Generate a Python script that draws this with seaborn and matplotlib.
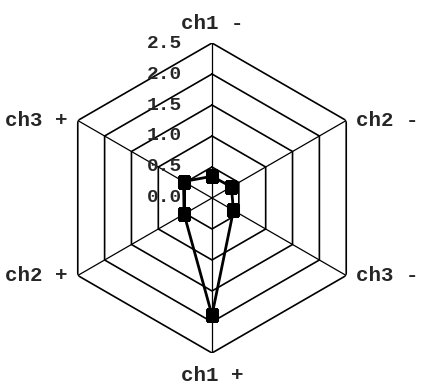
import numpy as np
import matplotlib
matplotlib.use("Agg")
import matplotlib.pyplot as plt
import matplotlib.transforms as mtransforms
import seaborn as sns

# data
channels = ["ch1 -", "ch2 -", "ch3 -", "ch1 +", "ch2 +", "ch3 +"]
values = [0.35, 0.36, 0.40, 1.89, 0.52, 0.53]
rings = [0.5, 1.0, 1.5, 2.0, 2.5]
tick_labels = ["0.0", "0.5", "1.0", "1.5", "2.0", "2.5"]
tick_values = [0.0, 0.5, 1.0, 1.5, 2.0, 2.5]

sns.set_style("white")
plt.rcParams['font.family'] = ['Liberation Mono', 'DejaVu Sans Mono']

fig = plt.figure(figsize=(4.21, 3.88), dpi=100)
ax = fig.add_axes([0.1354, 0.0902, 0.7363, 0.799], projection='polar')
ax.set_theta_zero_location('N')
ax.set_theta_direction(-1)

n = len(channels)
angles = np.linspace(0, 2 * np.pi, n, endpoint=False)
closed = np.append(angles, angles[0])

# hexagon grid
for r in rings:
    ax.plot(closed, [r] * (n + 1), color='black', lw=1.2, zorder=1)
for a in angles:
    ax.plot([a, a], [0, rings[-1]], color='black', lw=0.9, zorder=1)

# data line
sns.lineplot(x=closed, y=values + [values[0]], sort=False, estimator=None,
             color='black', lw=2.0, marker='s', markersize=8.5,
             markeredgecolor='black', ax=ax, zorder=3)

ax.set_ylim(0, 2.5)
ax.set_xticks([])
ax.set_yticks([])
ax.grid(False)
ax.spines['polar'].set_visible(False)
ax.set_xlabel('')
ax.set_ylabel('')

# radial tick labels along the top spoke
off = mtransforms.offset_copy(ax.transData, fig=fig, x=-30, y=0, units='dots')
for v, lab in zip(tick_values, tick_labels):
    ax.text(0, v, lab, transform=off, ha='right', va='center', fontsize=14,
            fontweight='bold', zorder=2)

# channel labels
for a, lab in zip(angles, channels):
    s = np.sin(a)
    c = np.cos(a)
    if abs(s) < 0.1:
        ha = 'center'
        dx, dy = 0, (20 if c > 0 else -23)
    else:
        ha = 'left' if s > 0 else 'right'
        dx, dy = 10 * np.sign(s), 0
    t = mtransforms.offset_copy(ax.transData, fig=fig, x=dx, y=dy, units='dots')
    ax.text(a, 2.5, lab, transform=t, ha=ha, va='center', fontsize=15,
            fontweight='bold')

fig.savefig("out.png", dpi=100)
